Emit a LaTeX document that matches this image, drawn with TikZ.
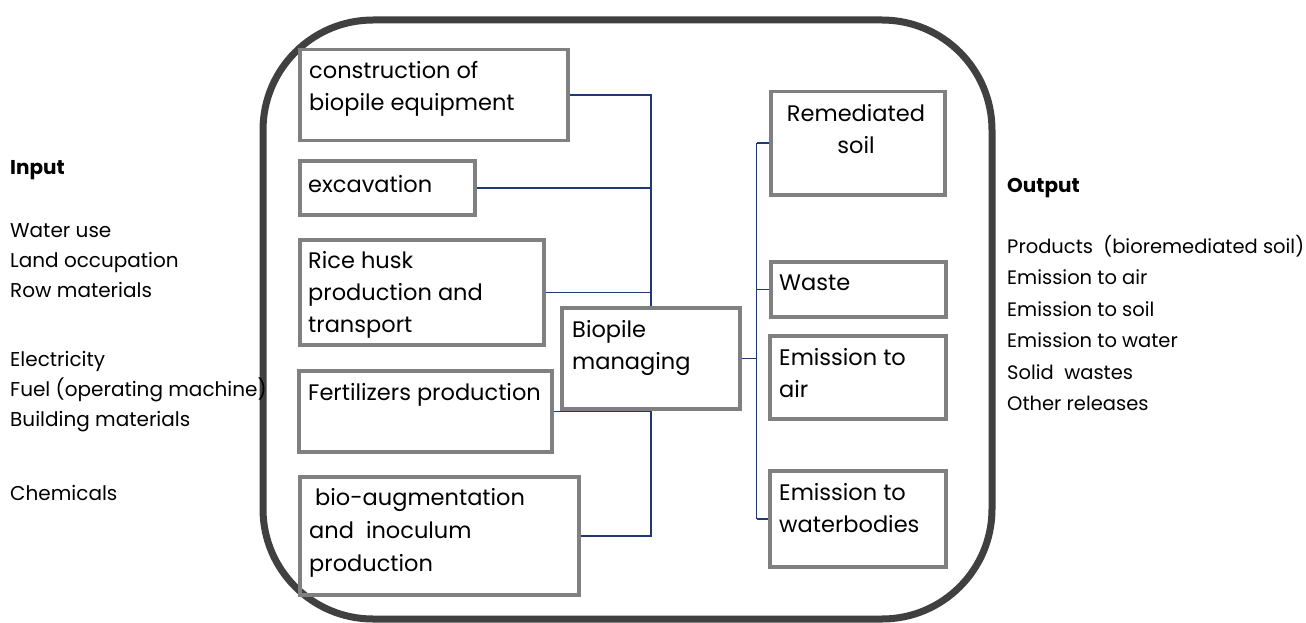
\documentclass[tikz,border=0pt]{standalone}
\usepackage{fontspec}
\setmainfont{Poppins}
\usetikzlibrary{calc}
\definecolor{boxgray}{RGB}{128,128,128}
\definecolor{outerdark}{RGB}{64,64,64}
\definecolor{linkblue}{RGB}{32,56,120}
\newcommand{\myL}[1]{\begin{tabular}[t]{@{}l@{}}#1\end{tabular}}
\newcommand{\myC}[1]{\begin{tabular}[t]{@{}c@{}}#1\end{tabular}}
\begin{document}
\begin{tikzpicture}[x=1pt,y=-1pt,
  box/.style={draw=boxgray, line width=3.5pt, inner sep=0pt, anchor=north west},
  btxt/.style={inner sep=0pt, anchor=base west, font=\fontsize{22.5}{32}\selectfont},
  lbl/.style={inner sep=0pt, anchor=base west, font=\fontsize{20}{30}\selectfont},
  outl/.style={inner sep=0pt, anchor=base west, font=\fontsize{19.5}{31.5}\selectfont},
  link/.style={draw=linkblue, line width=1.5pt}]
\useasboundingbox (0,0) rectangle (1306,623);
\fill[white] (0,0) rectangle (1306,623);
\draw[outerdark, line width=7pt, rounded corners=110pt] (263,20) rectangle (992,619);
% left boxes
\node[box, minimum width=268pt, minimum height=91pt] (cons) at (298,48) {};
\node[box, minimum width=175pt, minimum height=54pt] (exc) at (298,159) {};
\node[box, minimum width=244pt, minimum height=105pt] (rice) at (298,238) {};
\node[box, minimum width=253pt, minimum height=81pt] (fert) at (297,369) {};
\node[box, minimum width=279pt, minimum height=118pt] (bio) at (298,475) {};
\node[box, minimum width=178pt, minimum height=101pt] (bp) at (560,306) {};
% right boxes
\node[box, minimum width=174pt, minimum height=103pt] (rem) at (769,90) {};
\node[box, minimum width=175pt, minimum height=55pt] (waste) at (769,260) {};
\node[box, minimum width=176pt, minimum height=83pt] (air) at (768,334) {};
\node[box, minimum width=176pt, minimum height=96pt] (wat) at (768,469) {};
% box texts
\node[btxt] (tcons) at (309,79) {\myL{construction of\\biopile equipment}};
\node[btxt] (texc) at (308,192) {excavation};
\node[btxt] (trice) at (308,268) {\myL{Rice husk\\production and\\transport}};
\node[btxt] (tfert) at (308,400) {Fertilizers production};
\node[btxt, font=\fontsize{22.5}{33}\selectfont] (tbio) at (309,505) {\myL{\hspace{6pt}bio-augmentation\\and\ \ inoculum\\production}};
\node[btxt] (tbp) at (572,337) {\myL{Biopile\\managing}};
\node[btxt, anchor=base] (trem) at (856,122) {\myC{Remediated\\soil}};
\node[btxt] (twaste) at (779,290) {Waste};
\node[btxt] (tair) at (779,365) {\myL{Emission to\\air}};
\node[btxt] (twat) at (779,500) {\myL{Emission to\\waterbodies}};
% connectors
\draw[link] (cons.east) -| (bp.north);
\draw[link] (exc.east) -| (bp.north);
\draw[link] (rice.east) -| (bp.north);
\draw[link] (fert.east) -| (bp.south);
\draw[link] (bio.east) -| (bp.south);
\coordinate (rt) at ($(bp.east)+(15,0)$);
\draw[link] (bp.east) -- (rt);
\draw[link] (rt|-rem.west) -- (rt|-wat.west);
\draw[link] (rt|-rem.west) -- (rem.west);
\draw[link] (rt|-waste.west) -- (waste.west);
\draw[link] (rt|-wat.west) -- (wat.west);
% input / output labels
\node[lbl, font=\fontsize{20}{30}\selectfont\bfseries] (in) at (10,175) {Input};
\node[lbl] (in1) at (10,237) {\myL{Water use\\Land occupation\\Row materials}};
\node[lbl] (in2) at (10,366) {\myL{Electricity\\Fuel (operating machine)\\Building materials}};
\node[lbl] (in3) at (10,500) {Chemicals};
\node[lbl, font=\fontsize{20}{30}\selectfont\bfseries] (out) at (1007,192) {Output};
\node[outl] (out1) at (1007,253) {\myL{Products\ \ (bioremediated soil)\\Emission to air\\Emission to soil\\Emission to water\\Solid\ \ wastes\\Other releases}};
\end{tikzpicture}
\end{document}
